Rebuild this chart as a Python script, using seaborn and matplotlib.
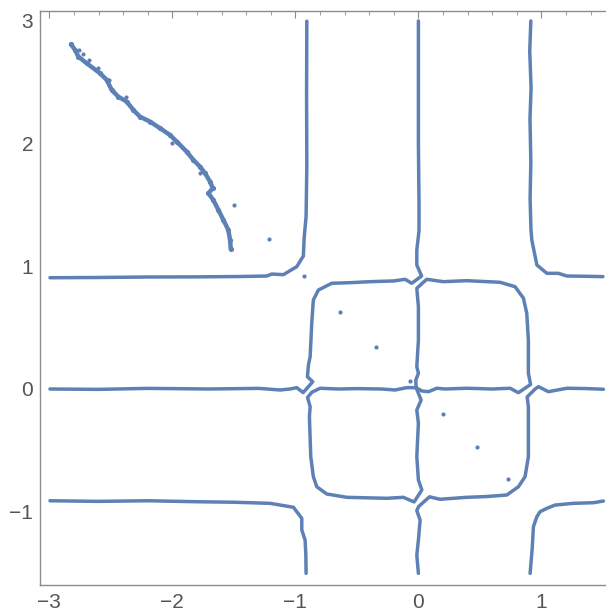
import numpy as np
import pandas as pd
import seaborn as sns
import matplotlib.pyplot as plt
from matplotlib.ticker import MultipleLocator

# contour pieces (x, y in data units)
ul_x = [-2.995, -2.6, -2.2, -1.8, -1.45, -1.233, -1.192, -1.098, -0.989, -0.935, -0.929, -0.913, -0.907, -0.909, -0.907]
ul_y = [0.906, 0.908, 0.912, 0.913, 0.916, 0.920, 0.936, 0.931, 0.996, 1.083, 1.227, 1.403, 1.810, 2.4, 2.995]

tl_x = [0.0, 0.0, 0.005, 0.005, -0.013, -0.013, 0.026, -0.054, -0.108, -0.2, -0.393, -0.55, -0.704, -0.813,
        -0.854, -0.867, -0.880, -0.894, -0.902, -0.859, -0.937, -0.989, -1.043, -1.124, -1.3, -1.7, -2.2, -2.6, -2.995]
tl_y = [2.997, 2.0, 1.5, 1.29, 1.13, 1.01, 0.920, 0.861, 0.893, 0.880, 0.874, 0.866, 0.861, 0.806,
        0.725, 0.535, 0.263, 0.195, 0.100, 0.059, -0.029, 0.011, 0.0, -0.008, 0.005, 0.0, 0.005, -0.003, 0.0]

tr_x = [-0.019, -0.021, 0.0, -0.013, 0.0, 0.0, -0.013, 0.038, 0.068, 0.203, 0.393, 0.664, 0.786, 0.854,
        0.881, 0.894, 0.894, 0.912, 0.813, 0.746, 0.6, 0.393, 0.217, 0.150, 0.081, 0.028, -0.019]
tr_y = [0.011, 0.073, 0.128, 0.182, 0.399, 0.670, 0.820, 0.867, 0.893, 0.874, 0.882, 0.869, 0.833, 0.739,
        0.616, 0.399, 0.128, 0.037, -0.030, 0.006, 0.0, 0.006, 0.0, 0.006, -0.022, -0.016, 0.011]

ur_x = [0.914, 0.905, 0.916, 0.907, 0.914, 0.908, 0.915, 0.922, 0.963, 1.044, 1.138, 1.207, 1.35, 1.5]
ur_y = [2.997, 2.75, 2.45, 2.2, 1.85, 1.55, 1.3, 1.213, 1.010, 0.942, 0.942, 0.920, 0.918, 0.915]

bl_x = [-0.019, -0.094, -0.19, -0.3, -0.5, -0.65, -0.799, -0.867, -0.901, -0.880, -0.886, -0.875, -0.854,
        -0.826, -0.745, -0.582, -0.257, -0.122, -0.035, 0.028, 0.0, -0.013, 0.0, -0.013, 0.022, 0.0, -0.019]
bl_y = [0.011, 0.011, -0.008, 0.0, 0.003, 0.0, 0.006, -0.027, -0.069, -0.144, -0.226, -0.551, -0.714,
        -0.796, -0.855, -0.882, -0.890, -0.882, -0.920, -0.822, -0.741, -0.551, -0.279, -0.171, -0.09, -0.035, 0.011]

br_x = [1.504, 1.35, 1.207, 1.12, 1.057, 0.976, 0.949, 0.884, 0.894, 0.894, 0.867, 0.813, 0.719, 0.55,
        0.393, 0.176, 0.09, 0.002, -0.013, 0.014, 0.0, -0.013, 0.0]
br_y = [-0.002, 0.004, 0.006, -0.01, -0.022, 0.019, 0.0, -0.065, -0.144, -0.551, -0.714, -0.796, -0.863, -0.876,
        -0.882, -0.898, -0.878, -0.957, -0.99, -1.067, -1.23, -1.352, -1.501]

ll_x = [-2.995, -2.6, -2.2, -1.8, -1.5, -1.206, -1.016, -0.948, -0.948, -0.921, -0.915, -0.913]
ll_y = [-0.910, -0.915, -0.910, -0.918, -0.922, -0.931, -0.963, -1.053, -1.148, -1.230, -1.35, -1.501]

lr_x = [0.908, 0.925, 0.935, 0.963, 0.989, 1.044, 1.111, 1.260, 1.423, 1.504]
lr_y = [-1.501, -1.3, -1.121, -1.040, -0.999, -0.972, -0.945, -0.931, -0.926, -0.912]

# dense dotted curve in the upper left
arc_x = [-2.824, -2.791, -2.764, -2.696, -2.588, -2.533, -2.493, -2.439, -2.371, -2.317, -2.263, -2.181, -2.100,
         -2.019, -1.964, -1.883, -1.829, -1.775, -1.734, -1.693, -1.672, -1.707, -1.667, -1.626, -1.585, -1.545,
         -1.531, -1.525]
arc_y = [2.807, 2.761, 2.706, 2.652, 2.571, 2.516, 2.435, 2.380, 2.340, 2.272, 2.217, 2.177, 2.123,
         2.068, 2.014, 1.932, 1.865, 1.810, 1.756, 1.688, 1.634, 1.594, 1.539, 1.458, 1.376, 1.295,
         1.213, 1.138]

# loose points
dots_x = [-2.756, -2.728, -2.675, -2.602, -2.512, -2.376, -2.005, -1.775, -1.496, -1.216, -0.927, -0.637,
          -0.344, -0.067, 0.203, 0.475, 0.732]
dots_y = [2.76, 2.725, 2.679, 2.614, 2.516, 2.375, 2.006, 1.761, 1.498, 1.219, 0.920, 0.629,
          0.344, 0.065, -0.206, -0.475, -0.735]

curves = [(ul_x, ul_y), (tl_x, tl_y), (tr_x, tr_y), (ur_x, ur_y),
          (bl_x, bl_y), (br_x, br_y), (ll_x, ll_y), (lr_x, lr_y)]

sns.set_style("white")
plt.rcParams['font.family'] = ['Liberation Sans', 'DejaVu Sans']

blue = "#5E81B5"
frame = "#8c8c8c"

fig = plt.figure(figsize=(6.06, 6.14), dpi=100)
ax = fig.add_axes([40 / 606, 29 / 614, 574 / 606, 574 / 614])

for cx, cy in curves:
    sns.lineplot(x=cx, y=cy, sort=False, estimator=None, color=blue, lw=2.5,
                 solid_joinstyle="round", ax=ax)

sns.lineplot(x=arc_x, y=arc_y, sort=False, estimator=None, color=blue, lw=3.2,
             solid_joinstyle="round", solid_capstyle="round", ax=ax)
sns.scatterplot(x=arc_x, y=arc_y, color=blue, s=14, linewidth=0, ax=ax)
sns.scatterplot(x=dots_x, y=dots_y, color=blue, s=9, linewidth=0, ax=ax)

ax.set_xlim(-3.076, 1.59)
ax.set_ylim(-1.596, 3.078)

ax.xaxis.set_major_locator(MultipleLocator(1))
ax.xaxis.set_minor_locator(MultipleLocator(0.2))
ax.yaxis.set_major_locator(MultipleLocator(1))
ax.yaxis.set_minor_locator(MultipleLocator(0.2))

ax.tick_params(which='both', direction='in', top=True, right=True, color=frame,
               labelcolor='#555555', labelsize=15)
ax.tick_params(which='major', length=5, width=0.8)
ax.tick_params(which='minor', length=2.8, width=0.6)
ax.tick_params(axis='x', pad=6)
ax.tick_params(axis='y', pad=5)

for sp in ax.spines.values():
    sp.set_color(frame)
    sp.set_linewidth(1.0)

ax.set_xlabel("")
ax.set_ylabel("")

fig.savefig("out.png", dpi=100)
